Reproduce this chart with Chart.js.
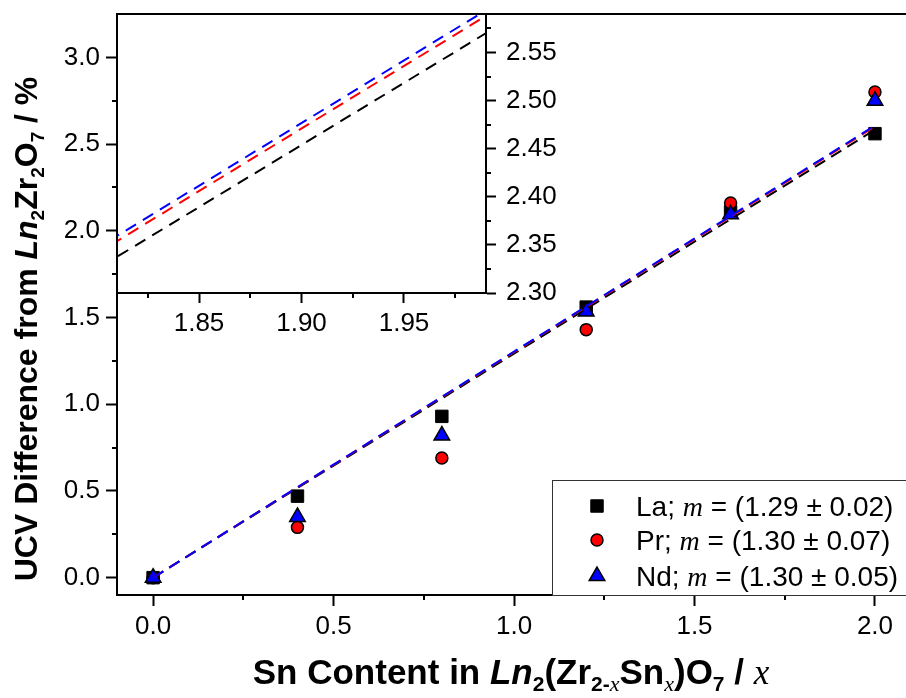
<!DOCTYPE html>
<html>
<head>
<meta charset="utf-8">
<script src="https://cdn.jsdelivr.net/npm/chart.js@4.4.0/dist/chart.umd.min.js"></script>
<style>
  html, body { margin: 0; padding: 0; background: #fff; overflow: hidden; }
  #wrap { position: relative; width: 906px; height: 698px; overflow: hidden; }
  canvas { position: absolute; left: 0; top: 0; }
</style>
</head>
<body>
<div id="wrap">
  <canvas id="main" width="906" height="698"></canvas>
  <canvas id="inset" width="600" height="345"></canvas>
</div>
<script>
// data
const snContent = [0, 0.4, 0.8, 1.2, 1.6, 2.0];
const ucvLa = [0, 0.47, 0.93, 1.56, 2.11, 2.56];
const ucvPr = [0, 0.29, 0.69, 1.43, 2.16, 2.80];
const ucvNd = [0, 0.35, 0.82, 1.535, 2.095, 2.75];

// fitted lines (end points)
const fitX = [0, 2.0];
const fitLa = [0, 2.583];
const fitPr = [0, 2.601];
const fitNd = [0, 2.607];

const xTicks = [0, 0.5, 1.0, 1.5, 2.0];
const xMinor = [0.25, 0.75, 1.25, 1.75];
const yTicks = [0, 0.5, 1.0, 1.5, 2.0, 2.5, 3.0];
const yMinor = [0.25, 0.75, 1.25, 1.75, 2.25, 2.75];
const insetXTicks = [1.85, 1.90, 1.95];
const insetXMinor = [1.825, 1.875, 1.925, 1.975];
const insetYTicks = [2.30, 2.35, 2.40, 2.45, 2.50, 2.55];
const insetYMinor = [2.325, 2.375, 2.425, 2.475, 2.525, 2.575];

const legendNames = ['La; ', 'Pr; ', 'Nd; '];
const legendSlopes = [' = (1.29 ± 0.02)', ' = (1.30 ± 0.07)', ' = (1.30 ± 0.05)'];

Chart.defaults.font.family = '"Liberation Sans", Arial, sans-serif';
Chart.defaults.color = '#000';

const SANS = '"Liberation Sans", Arial, sans-serif';
const SERIF = '"Liberation Serif", "Times New Roman", serif';

const pts = (xs, ys) => xs.map((x, i) => ({ x: x, y: ys[i] }));

const markers = [
    { pointStyle: 'rect', radius: 8.8, bg: '#000000', border: '#000000', bw: 1 },
    { pointStyle: 'circle', radius: 6, bg: '#ff0000', border: '#000000', bw: 1.5 },
    { pointStyle: 'triangle', radius: 9, bg: '#0000ff', border: '#000000', bw: 1.5 }
];

function pointSet(ys, mk, order) {
    return {
        data: pts(snContent, ys),
        pointStyle: mk.pointStyle,
        pointRadius: mk.radius,
        backgroundColor: mk.bg,
        borderColor: mk.border,
        borderWidth: mk.bw,
        showLine: false,
        order: order
    };
}

function fitSet(ys, color, order, dash) {
    return {
        data: pts(fitX, ys),
        showLine: true,
        borderColor: color,
        borderWidth: 2,
        borderDash: dash,
        pointRadius: 0,
        fill: false,
        order: order
    };
}

// text with mixed fonts, drawn left to right from x (or centred)
function drawRich(ctx, parts, x, y, centre) {
    let total = 0;
    parts.forEach(p => { ctx.font = p[1]; p.w = ctx.measureText(p[0]).width; total += p.w; });
    let cx = centre ? x - total / 2 : x;
    ctx.textAlign = 'left';
    ctx.textBaseline = 'alphabetic';
    parts.forEach(p => { ctx.font = p[1]; ctx.fillText(p[0], cx, y + (p[2] || 0)); cx += p.w; });
}

function minorTicks(ctx, scale, values, len, horizontal) {
    ctx.save();
    ctx.strokeStyle = '#000';
    ctx.lineWidth = 2;
    ctx.beginPath();
    values.forEach(v => {
        const p = Math.round(scale.getPixelForValue(v));
        if (horizontal) {
            ctx.moveTo(p, scale.top);
            ctx.lineTo(p, scale.top + len);
        } else if (scale.position === 'right') {
            ctx.moveTo(scale.left, p);
            ctx.lineTo(scale.left + len, p);
        } else {
            ctx.moveTo(scale.right, p);
            ctx.lineTo(scale.right - len, p);
        }
    });
    ctx.stroke();
    ctx.restore();
}

const mainDecor = {
    id: 'mainDecor',
    afterDraw(chart) {
        const ctx = chart.ctx;
        const a = chart.chartArea;
        ctx.save();
        // frame top
        ctx.strokeStyle = '#000';
        ctx.lineWidth = 2;
        ctx.beginPath();
        ctx.moveTo(a.left, a.top);
        ctx.lineTo(a.right, a.top);
        ctx.stroke();
        minorTicks(ctx, chart.scales.x, xMinor, 5, true);
        minorTicks(ctx, chart.scales.y, yMinor, 5, false);

        // legend box
        ctx.fillStyle = '#fff';
        ctx.fillRect(552, 480, 400, a.bottom - 480);
        ctx.strokeStyle = '#333';
        ctx.lineWidth = 1;
        ctx.strokeRect(552.5, 480.5, 400, a.bottom - 480);
        const rows = [506, 540, 576];
        markers.forEach((mk, i) => {
            ctx.fillStyle = mk.bg;
            ctx.strokeStyle = mk.border;
            ctx.lineWidth = mk.bw;
            Chart.helpers.drawPoint(ctx, { pointStyle: mk.pointStyle, radius: mk.radius, rotation: 0, borderWidth: mk.bw }, 597, rows[i]);
            ctx.fillStyle = '#000';
            drawRich(ctx, [
                [legendNames[i], '28px ' + SANS],
                ['m', 'italic 28px ' + SERIF],
                [legendSlopes[i], '28px ' + SANS]
            ], 636, rows[i] + 10, false);
        });

        // axis titles
        ctx.fillStyle = '#000';
        const B = 'bold 35px ' + SANS, BI = 'italic bold 35px ' + SANS;
        const S = 'bold 21px ' + SANS, SI = 'italic 22px ' + SERIF;
        drawRich(ctx, [
            ['Sn Content in ', B], ['Ln', BI], ['2', S, 7], ['(Zr', B], ['2-', S, 7], ['x', SI, 7],
            ['Sn', B], ['x', SI, 7], [')O', B], ['7', S, 7], [' / ', B], ['x', 'italic 35px ' + SERIF]
        ], 511, 684, true);

        ctx.translate(37, 329);
        ctx.rotate(-Math.PI / 2);
        const B2 = 'bold 32px ' + SANS, BI2 = 'italic bold 32px ' + SANS, S2 = 'bold 19px ' + SANS;
        drawRich(ctx, [
            ['UCV Difference from ', B2], ['Ln', BI2], ['2', S2, 7], ['Zr', B2], ['2', S2, 7],
            ['O', B2], ['7', S2, 7], [' / %', B2]
        ], 0, 0, true);
        ctx.restore();
    }
};

const insetDecor = {
    id: 'insetDecor',
    beforeDraw(chart) {
        const a = chart.chartArea;
        chart.ctx.save();
        chart.ctx.fillStyle = '#fff';
        chart.ctx.fillRect(a.left, a.top, a.right - a.left, a.bottom - a.top);
        chart.ctx.restore();
    },
    afterDraw(chart) {
        const ctx = chart.ctx;
        const a = chart.chartArea;
        ctx.save();
        ctx.strokeStyle = '#000';
        ctx.lineWidth = 2;
        ctx.beginPath();
        ctx.moveTo(a.left, a.bottom);
        ctx.lineTo(a.left, a.top);
        ctx.lineTo(a.right, a.top);
        ctx.stroke();
        minorTicks(ctx, chart.scales.x, insetXMinor, 5, true);
        minorTicks(ctx, chart.scales.y, insetYMinor, 5, false);
        ctx.restore();
    }
};

const tickFont = { family: SANS, size: 26 };

function axisOpts(extra) {
    return Object.assign({
        type: 'linear',
        grid: { display: true, drawOnChartArea: false, drawTicks: true, tickLength: 11, tickWidth: 2, tickColor: '#000' },
        border: { display: true, color: '#000', width: 2 }
    }, extra);
}

new Chart(document.getElementById('main'), {
    type: 'scatter',
    data: {
        datasets: [
            fitSet(fitNd, '#0000ff', 0, [12, 7]),
            fitSet(fitPr, '#ff0000', 1, [12, 7]),
            fitSet(fitLa, '#000000', 2, [12, 7]),
            pointSet(ucvNd, markers[2], 3),
            pointSet(ucvPr, markers[1], 4),
            pointSet(ucvLa, markers[0], 5)
        ]
    },
    options: {
        responsive: false,
        animation: false,
        events: [],
        devicePixelRatio: 1,
        layout: { autoPadding: false, padding: { left: 0, top: 14, right: 0, bottom: 0 } },
        plugins: { legend: { display: false }, tooltip: { enabled: false } },
        scales: {
            x: axisOpts({
                min: -0.1, max: 2.086,
                afterBuildTicks: s => { s.ticks = xTicks.map(v => ({ value: v })); },
                afterFit: s => { s.height = 103; s.paddingLeft = 0; s.paddingRight = 0; },
                ticks: { font: tickFont, color: '#000', padding: 5, maxRotation: 0, autoSkip: false, callback: v => v.toFixed(1) }
            }),
            y: axisOpts({
                min: -0.1, max: 3.25,
                afterBuildTicks: s => { s.ticks = yTicks.map(v => ({ value: v })); },
                afterFit: s => { s.width = 117; s.paddingTop = 0; s.paddingBottom = 0; },
                ticks: { font: tickFont, color: '#000', padding: 6, autoSkip: false, callback: v => v.toFixed(1) }
            })
        }
    },
    plugins: [mainDecor]
});

new Chart(document.getElementById('inset'), {
    type: 'scatter',
    data: {
        datasets: [
            fitSet(fitNd, '#0000ff', 0, [12, 8]),
            fitSet(fitPr, '#ff0000', 1, [12, 8]),
            fitSet(fitLa, '#000000', 2, [12, 8])
        ]
    },
    options: {
        responsive: false,
        animation: false,
        events: [],
        devicePixelRatio: 1,
        layout: { autoPadding: false, padding: { left: 117, top: 14, right: 0, bottom: 0 } },
        plugins: { legend: { display: false }, tooltip: { enabled: false } },
        scales: {
            x: axisOpts({
                min: 1.81, max: 1.99,
                afterBuildTicks: s => { s.ticks = insetXTicks.map(v => ({ value: v })); },
                afterFit: s => { s.height = 345 - 293; s.paddingLeft = 0; s.paddingRight = 0; },
                grid: { display: true, drawOnChartArea: false, drawTicks: true, tickLength: 10, tickWidth: 2, tickColor: '#000' },
                ticks: { font: tickFont, color: '#000', padding: 5, maxRotation: 0, autoSkip: false, callback: v => v.toFixed(2) }
            }),
            y: axisOpts({
                position: 'right',
                min: 2.30, max: 2.59,
                afterBuildTicks: s => { s.ticks = insetYTicks.map(v => ({ value: v })); },
                afterFit: s => { s.width = 600 - 486; s.paddingTop = 0; s.paddingBottom = 0; },
                grid: { display: true, drawOnChartArea: false, drawTicks: true, tickLength: 10, tickWidth: 2, tickColor: '#000' },
                ticks: { font: tickFont, color: '#000', padding: 10, autoSkip: false, callback: v => v.toFixed(2) }
            })
        }
    },
    plugins: [insetDecor]
});
</script>
</body>
</html>
